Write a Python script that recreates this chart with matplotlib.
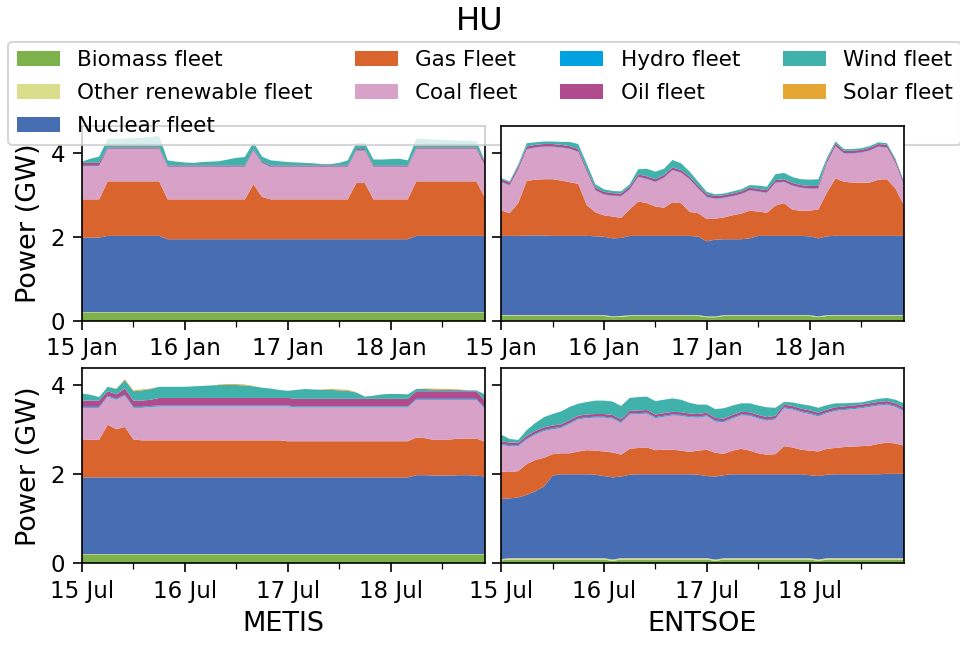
import numpy as np
import pandas as pd
import matplotlib
matplotlib.use('Agg')
import matplotlib.pyplot as plt
import matplotlib.dates as mdates

fleets = ['Biomass fleet', 'Other renewable fleet', 'Nuclear fleet', 'Gas Fleet', 'Coal fleet',
          'Hydro fleet', 'Oil fleet', 'Wind fleet', 'Solar fleet']
colors = ['#7cb14c', '#d9dd8c', '#476db3', '#d9642d', '#d8a2c8',
          '#00a3e0', '#b04b8e', '#41b2ab', '#e6a634']

# two-hourly values in GW, one row per day
jan_times = pd.date_range('2015-01-15', periods=48, freq='2h')
jul_times = pd.date_range('2015-07-15', periods=48, freq='2h')

# ---- METIS, January ----
jan_metis_biomass = [0.19] * 48
jan_metis_other = [0.01] * 48
jan_metis_nuclear = [1.78, 1.78, 1.78, 1.82, 1.82, 1.82, 1.82, 1.82, 1.82, 1.82, 1.74, 1.74,
                     1.74, 1.74, 1.74, 1.74, 1.74, 1.74, 1.74, 1.74, 1.74, 1.74, 1.74, 1.74,
                     1.74, 1.74, 1.74, 1.74, 1.74, 1.74, 1.74, 1.74, 1.74, 1.74, 1.74, 1.74,
                     1.74, 1.74, 1.74, 1.82, 1.82, 1.82, 1.82, 1.82, 1.82, 1.82, 1.82, 1.82]
jan_metis_gas = [0.91, 0.91, 0.91, 1.30, 1.30, 1.30, 1.30, 1.30, 1.30, 1.30, 0.95, 0.95,
                 0.95, 0.95, 0.95, 0.95, 0.95, 0.95, 0.95, 0.95, 1.31, 1.01, 0.95, 0.95,
                 0.95, 0.95, 0.95, 0.95, 0.95, 0.95, 0.95, 0.95, 1.34, 1.34, 0.95, 0.95,
                 0.95, 0.95, 0.95, 1.30, 1.30, 1.30, 1.30, 1.30, 1.30, 1.30, 1.30, 0.91]
jan_metis_coal = [0.79, 0.79, 0.79, 0.77, 0.77, 0.77, 0.77, 0.77, 0.77, 0.77, 0.77, 0.77,
                  0.77, 0.77, 0.77, 0.77, 0.77, 0.77, 0.77, 0.77, 0.80, 0.80, 0.77, 0.77,
                  0.77, 0.77, 0.77, 0.77, 0.77, 0.77, 0.77, 0.77, 0.77, 0.77, 0.77, 0.77,
                  0.77, 0.77, 0.77, 0.77, 0.77, 0.77, 0.77, 0.77, 0.77, 0.77, 0.77, 0.76]
jan_metis_hydro = [0.01] * 48
jan_metis_oil = [0.07, 0.07, 0.07, 0.03, 0.03, 0.03, 0.03, 0.03, 0.03, 0.03, 0.03, 0.03,
                 0.03, 0.03, 0.03, 0.03, 0.03, 0.03, 0.03, 0.03, 0.03, 0.03, 0.03, 0.03,
                 0.03, 0.03, 0.03, 0.03, 0.03, 0.03, 0.03, 0.03, 0.03, 0.03, 0.03, 0.03,
                 0.03, 0.03, 0.03, 0.03, 0.03, 0.03, 0.03, 0.03, 0.03, 0.03, 0.03, 0.08]
jan_metis_wind = [0.03, 0.10, 0.15, 0.20, 0.20, 0.21, 0.22, 0.23, 0.25, 0.27, 0.12, 0.09,
                  0.07, 0.06, 0.08, 0.09, 0.10, 0.14, 0.18, 0.20, 0.16, 0.12, 0.12, 0.10,
                  0.08, 0.07, 0.06, 0.05, 0.03, 0.03, 0.06, 0.12, 0.14, 0.14, 0.14, 0.14,
                  0.15, 0.16, 0.12, 0.20, 0.20, 0.19, 0.18, 0.17, 0.16, 0.16, 0.15, 0.02]
jan_metis_solar = [0.0] * 48

# ---- ENTSOE, January ----
jan_entsoe_biomass = [0.11, 0.11, 0.11, 0.11, 0.11, 0.11, 0.11, 0.11, 0.11, 0.11, 0.11, 0.11,
                      0.11, 0.08, 0.09, 0.11, 0.11, 0.11, 0.11, 0.11, 0.11, 0.11, 0.11, 0.11,
                      0.08, 0.08, 0.11, 0.11, 0.11, 0.11, 0.11, 0.11, 0.11, 0.11, 0.11, 0.11,
                      0.11, 0.08, 0.11, 0.11, 0.11, 0.11, 0.11, 0.11, 0.11, 0.11, 0.11, 0.11]
jan_entsoe_other = [0.02] * 48
jan_entsoe_nuclear = [1.89, 1.89, 1.89, 1.90, 1.90, 1.90, 1.89, 1.89, 1.89, 1.89, 1.89, 1.88,
                      1.87, 1.86, 1.86, 1.89, 1.89, 1.89, 1.89, 1.89, 1.89, 1.89, 1.89, 1.87,
                      1.79, 1.83, 1.81, 1.81, 1.81, 1.83, 1.89, 1.89, 1.89, 1.89, 1.89, 1.89,
                      1.88, 1.86, 1.88, 1.89, 1.89, 1.89, 1.89, 1.89, 1.89, 1.89, 1.89, 1.89]
jan_entsoe_gas = [0.61, 0.54, 0.78, 1.30, 1.33, 1.34, 1.35, 1.32, 1.28, 1.24, 0.73, 0.57,
                  0.51, 0.52, 0.48, 0.63, 0.82, 0.78, 0.70, 0.67, 0.80, 0.78, 0.57, 0.56,
                  0.53, 0.50, 0.52, 0.57, 0.61, 0.66, 0.58, 0.55, 0.72, 0.78, 0.62, 0.60,
                  0.61, 0.69, 1.04, 1.37, 1.29, 1.27, 1.27, 1.27, 1.34, 1.35, 1.13, 0.73]
jan_entsoe_coal = [0.67, 0.66, 0.80, 0.75, 0.76, 0.77, 0.77, 0.78, 0.79, 0.76, 0.80, 0.52,
                   0.49, 0.49, 0.51, 0.47, 0.58, 0.57, 0.58, 0.71, 0.76, 0.72, 0.77, 0.58,
                   0.52, 0.47, 0.46, 0.45, 0.46, 0.48, 0.47, 0.47, 0.54, 0.50, 0.57, 0.54,
                   0.52, 0.49, 0.70, 0.76, 0.67, 0.69, 0.71, 0.76, 0.78, 0.75, 0.60, 0.47]
jan_entsoe_hydro = [0.01] * 48
jan_entsoe_oil = [0.06] * 48
jan_entsoe_wind = [0.03, 0.03, 0.05, 0.08, 0.06, 0.06, 0.06, 0.07, 0.10, 0.12, 0.12, 0.08,
                   0.06, 0.05, 0.05, 0.06, 0.12, 0.18, 0.18, 0.15, 0.18, 0.16, 0.12, 0.10,
                   0.06, 0.04, 0.04, 0.05, 0.05, 0.06, 0.08, 0.08, 0.14, 0.15, 0.14, 0.14,
                   0.15, 0.16, 0.06, 0.05, 0.04, 0.04, 0.04, 0.04, 0.04, 0.04, 0.04, 0.03]
jan_entsoe_solar = [0.0] * 48

# ---- METIS, July ----
jul_metis_biomass = [0.19] * 48
jul_metis_other = [0.01] * 48
jul_metis_nuclear = [1.72, 1.72, 1.72, 1.72, 1.72, 1.72, 1.72, 1.72, 1.72, 1.72, 1.72, 1.72,
                     1.72, 1.72, 1.72, 1.72, 1.72, 1.72, 1.72, 1.72, 1.72, 1.72, 1.72, 1.72,
                     1.72, 1.72, 1.72, 1.72, 1.72, 1.72, 1.72, 1.72, 1.72, 1.72, 1.72, 1.72,
                     1.72, 1.72, 1.72, 1.77, 1.77, 1.76, 1.76, 1.76, 1.77, 1.77, 1.76, 1.74]
jul_metis_gas = [0.84, 0.84, 0.84, 1.18, 1.08, 1.13, 0.85, 0.83, 0.83, 0.83, 0.83, 0.83,
                 0.83, 0.83, 0.83, 0.83, 0.83, 0.83, 0.83, 0.83, 0.83, 0.83, 0.83, 0.83,
                 0.81, 0.81, 0.81, 0.81, 0.81, 0.81, 0.81, 0.81, 0.81, 0.81, 0.81, 0.81,
                 0.81, 0.81, 0.81, 0.84, 0.83, 0.80, 0.80, 0.81, 0.82, 0.82, 0.83, 0.78]
jul_metis_coal = [0.72, 0.72, 0.72, 0.63, 0.66, 0.70, 0.71, 0.73, 0.75, 0.76, 0.76, 0.76,
                  0.76, 0.76, 0.76, 0.76, 0.76, 0.76, 0.76, 0.76, 0.76, 0.76, 0.76, 0.76,
                  0.78, 0.76, 0.76, 0.76, 0.76, 0.76, 0.76, 0.76, 0.76, 0.76, 0.76, 0.76,
                  0.76, 0.76, 0.76, 0.85, 0.86, 0.90, 0.90, 0.89, 0.87, 0.87, 0.87, 0.73]
jul_metis_hydro = [0.02] * 48
jul_metis_oil = [0.14, 0.14, 0.14, 0.10, 0.10, 0.14, 0.14, 0.14, 0.14, 0.17, 0.17, 0.17,
                 0.17, 0.17, 0.17, 0.17, 0.17, 0.17, 0.17, 0.17, 0.17, 0.17, 0.17, 0.17,
                 0.17, 0.17, 0.17, 0.17, 0.17, 0.17, 0.17, 0.17, 0.17, 0.17, 0.17, 0.17,
                 0.17, 0.17, 0.17, 0.17, 0.17, 0.17, 0.17, 0.17, 0.17, 0.17, 0.17, 0.17]
jul_metis_wind = [0.16, 0.13, 0.08, 0.10, 0.12, 0.19, 0.21, 0.23, 0.24, 0.25, 0.25, 0.25,
                  0.25, 0.26, 0.27, 0.28, 0.29, 0.29, 0.29, 0.28, 0.26, 0.23, 0.21, 0.18,
                  0.16, 0.20, 0.22, 0.21, 0.20, 0.20, 0.19, 0.18, 0.14, 0.05, 0.07, 0.10,
                  0.11, 0.11, 0.10, 0.05, 0.05, 0.04, 0.03, 0.03, 0.03, 0.02, 0.02, 0.14]
jul_metis_solar = [0.0, 0.0, 0.0, 0.0, 0.01, 0.02, 0.02, 0.02, 0.01, 0.0, 0.0, 0.0,
                   0.0, 0.0, 0.0, 0.0, 0.01, 0.02, 0.02, 0.02, 0.01, 0.0, 0.0, 0.0,
                   0.0, 0.0, 0.0, 0.0, 0.01, 0.02, 0.02, 0.02, 0.01, 0.0, 0.0, 0.0,
                   0.0, 0.0, 0.0, 0.0, 0.01, 0.02, 0.02, 0.02, 0.01, 0.0, 0.0, 0.0]

# ---- ENTSOE, July ----
jul_entsoe_biomass = [0.06, 0.08, 0.08, 0.08, 0.08, 0.08, 0.08, 0.08, 0.08, 0.08, 0.08, 0.08,
                      0.08, 0.05, 0.08, 0.08, 0.08, 0.08, 0.08, 0.08, 0.08, 0.08, 0.08, 0.08,
                      0.08, 0.05, 0.08, 0.08, 0.08, 0.08, 0.08, 0.08, 0.08, 0.08, 0.08, 0.08,
                      0.08, 0.05, 0.08, 0.08, 0.08, 0.08, 0.08, 0.08, 0.08, 0.08, 0.08, 0.08]
jul_entsoe_other = [0.03] * 48
jul_entsoe_nuclear = [1.35, 1.34, 1.36, 1.42, 1.50, 1.61, 1.85, 1.88, 1.88, 1.88, 1.88, 1.87,
                      1.84, 1.84, 1.83, 1.87, 1.88, 1.88, 1.88, 1.88, 1.88, 1.88, 1.88, 1.87,
                      1.84, 1.86, 1.86, 1.88, 1.88, 1.88, 1.88, 1.88, 1.88, 1.88, 1.88, 1.88,
                      1.86, 1.87, 1.87, 1.88, 1.88, 1.88, 1.88, 1.88, 1.88, 1.89, 1.89, 1.89]
jul_entsoe_gas = [0.61, 0.59, 0.59, 0.69, 0.70, 0.64, 0.48, 0.47, 0.47, 0.51, 0.54, 0.54,
                  0.55, 0.56, 0.49, 0.58, 0.59, 0.60, 0.54, 0.55, 0.55, 0.53, 0.50, 0.54,
                  0.59, 0.53, 0.48, 0.53, 0.57, 0.53, 0.47, 0.44, 0.45, 0.63, 0.60, 0.55,
                  0.55, 0.55, 0.58, 0.59, 0.61, 0.62, 0.63, 0.64, 0.68, 0.70, 0.68, 0.63]
jul_entsoe_coal = [0.60, 0.58, 0.56, 0.55, 0.57, 0.60, 0.56, 0.57, 0.66, 0.72, 0.72, 0.74,
                   0.76, 0.76, 0.71, 0.77, 0.76, 0.76, 0.72, 0.74, 0.77, 0.78, 0.78, 0.74,
                   0.75, 0.70, 0.71, 0.72, 0.75, 0.78, 0.78, 0.76, 0.78, 0.85, 0.85, 0.84,
                   0.82, 0.79, 0.80, 0.83, 0.83, 0.84, 0.85, 0.87, 0.86, 0.85, 0.82, 0.77]
jul_entsoe_hydro = [0.02] * 48
jul_entsoe_oil = [0.06] * 48
jul_entsoe_wind = [0.15, 0.08, 0.06, 0.13, 0.18, 0.23, 0.26, 0.29, 0.30, 0.27, 0.28, 0.30,
                   0.30, 0.30, 0.30, 0.29, 0.30, 0.30, 0.30, 0.30, 0.30, 0.28, 0.24, 0.21,
                   0.18, 0.20, 0.23, 0.21, 0.19, 0.20, 0.21, 0.22, 0.18, 0.06, 0.08, 0.10,
                   0.11, 0.11, 0.10, 0.09, 0.07, 0.06, 0.05, 0.06, 0.07, 0.07, 0.08, 0.10]
jul_entsoe_solar = [0.0] * 48

panels = [
    [(jan_times, [jan_metis_biomass, jan_metis_other, jan_metis_nuclear, jan_metis_gas, jan_metis_coal,
                  jan_metis_hydro, jan_metis_oil, jan_metis_wind, jan_metis_solar]),
     (jan_times, [jan_entsoe_biomass, jan_entsoe_other, jan_entsoe_nuclear, jan_entsoe_gas, jan_entsoe_coal,
                  jan_entsoe_hydro, jan_entsoe_oil, jan_entsoe_wind, jan_entsoe_solar])],
    [(jul_times, [jul_metis_biomass, jul_metis_other, jul_metis_nuclear, jul_metis_gas, jul_metis_coal,
                  jul_metis_hydro, jul_metis_oil, jul_metis_wind, jul_metis_solar]),
     (jul_times, [jul_entsoe_biomass, jul_entsoe_other, jul_entsoe_nuclear, jul_entsoe_gas, jul_entsoe_coal,
                  jul_entsoe_hydro, jul_entsoe_oil, jul_entsoe_wind, jul_entsoe_solar])],
]

fig, axes = plt.subplots(2, 2, figsize=(6.4, 4.32), dpi=150, sharey='row')
fig.subplots_adjust(left=0.0854, right=0.9417, bottom=0.131, top=0.8056, wspace=0.04, hspace=0.246)

for r in range(2):
    for c in range(2):
        ax = axes[r, c]
        times, series = panels[r][c]
        ax.stackplot(times, *[np.array(s) for s in series], colors=colors, labels=fleets)
        ax.set_xlim(times[0], times[-1])
        ax.xaxis.set_major_locator(mdates.DayLocator())
        ax.xaxis.set_minor_locator(mdates.HourLocator(byhour=12))
        ax.xaxis.set_major_formatter(mdates.DateFormatter('%d %b'))
        ax.tick_params(which='major', length=4.5, labelsize=11)
        ax.tick_params(which='minor', length=3)
        ax.set_yticks([0, 2, 4])

axes[0, 0].set_ylim(0, 4.64)
axes[1, 0].set_ylim(0, 4.36)
axes[0, 0].set_ylabel('Power (GW)', fontsize=13)
axes[1, 0].set_ylabel('Power (GW)', fontsize=13)
axes[1, 0].set_xlabel('METIS', fontsize=13)
axes[1, 1].set_xlabel('ENTSOE', fontsize=13)

# legend belongs to the first panel, so the later panels are drawn over it
axes[0, 0].legend(loc='upper center', bbox_to_anchor=(0.505, 0.952), bbox_transform=fig.transFigure,
                  ncol=4, fontsize=10.3, columnspacing=2.0, labelspacing=0.6)
fig.suptitle('HU', fontsize=15.5, y=0.99)

plt.savefig('out.png', dpi=150)
